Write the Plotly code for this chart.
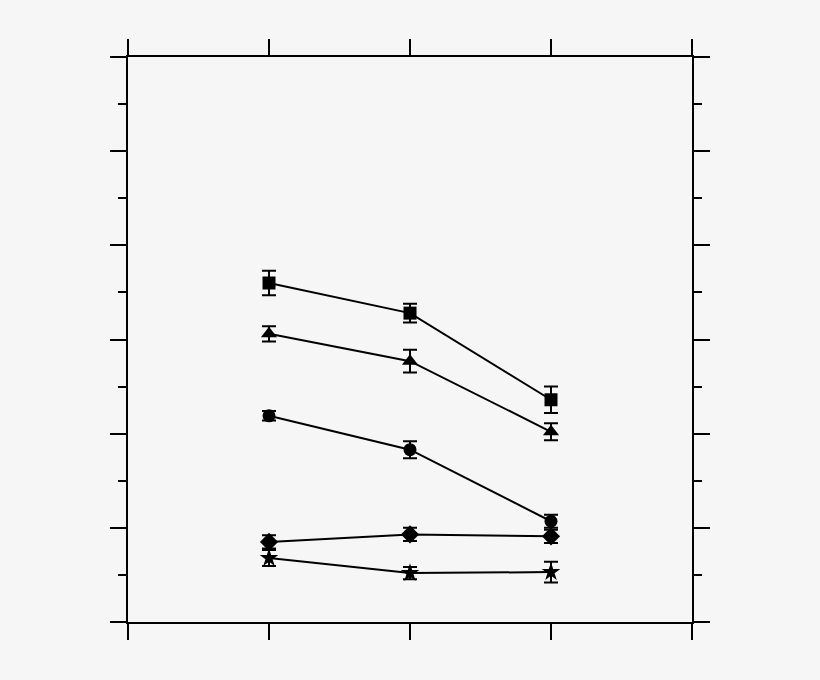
import plotly.graph_objects as go

x_pos = [1, 2, 3]

square_vals = [3.60, 3.28, 2.36]
square_err = [0.13, 0.10, 0.14]
triangle_vals = [3.06, 2.77, 2.02]
triangle_err = [0.08, 0.12, 0.09]
circle_vals = [2.19, 1.83, 1.07]
circle_err = [0.05, 0.09, 0.07]
diamond_vals = [0.85, 0.93, 0.91]
diamond_err = [0.07, 0.07, 0.07]
star_vals = [0.68, 0.52, 0.53]
star_err = [0.085, 0.065, 0.11]

series = [
    (square_vals, square_err, "square", 13),
    (triangle_vals, triangle_err, "triangle-up", 14),
    (circle_vals, circle_err, "circle", 13),
    (diamond_vals, diamond_err, "diamond", 14),
    (star_vals, star_err, "star", 14),
]

fig = go.Figure()
for vals, errs, sym, size in series:
    fig.add_trace(go.Scatter(
        x=x_pos, y=vals, mode="lines+markers",
        line=dict(color="black", width=2),
        marker=dict(symbol=sym, size=size, color="black"),
        error_y=dict(type="data", array=errs, visible=True,
                     color="black", thickness=2, width=7),
        showlegend=False,
    ))

bg = "rgb(246,246,246)"
fig.update_layout(
    width=820, height=680,
    paper_bgcolor=bg, plot_bgcolor=bg,
    margin=dict(l=128, r=128, t=57, b=58),
    xaxis=dict(range=[0, 4], tick0=0, dtick=1, showticklabels=False,
               ticks="outside", ticklen=16, tickwidth=2, tickcolor="black",
               showline=True, linecolor="black", linewidth=2, mirror="ticks",
               showgrid=False, zeroline=False),
    yaxis=dict(range=[0, 6], tick0=0, dtick=1, showticklabels=False,
               ticks="outside", ticklen=16, tickwidth=2, tickcolor="black",
               minor=dict(dtick=0.5, ticks="outside", ticklen=8,
                          tickwidth=2, tickcolor="black", showgrid=False),
               showline=True, linecolor="black", linewidth=2, mirror="ticks",
               showgrid=False, zeroline=False),
)

fig.write_html(
    "out.html",
    config={"displayModeBar": False},
    post_script="document.body.style.margin='0';document.body.style.background='rgb(246,246,246)';document.body.style.overflow='hidden';",
)
